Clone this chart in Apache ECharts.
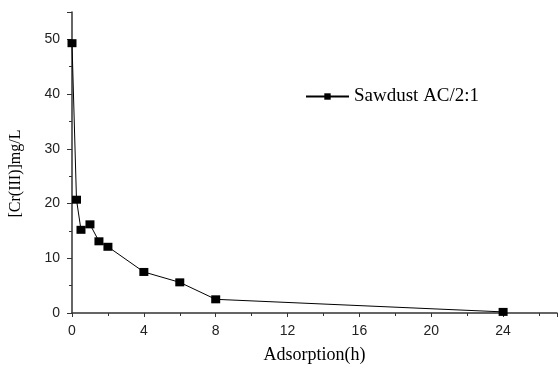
<!DOCTYPE html>
<html>
<head>
<meta charset="utf-8">
<script src="https://cdn.jsdelivr.net/npm/echarts@6/dist/echarts.min.js"></script>
<style>
  html, body { margin: 0; padding: 0; background: #fff; }
  #chart { width: 558px; height: 369px; }
</style>
</head>
<body>
<div id="chart"></div>
<script>
// adsorption time (h) and remaining Cr(III) concentration (mg/L)
const hours = [0, 0.25, 0.5, 1, 1.5, 2, 4, 6, 8, 24];
const crConc = [49.3, 20.7, 15.2, 16.2, 13.1, 12.1, 7.5, 5.6, 2.5, 0.2];
const seriesName = "Sawdust AC/2:1";

const axisColor = "#333";

const option = {
  animation: false,
  grid: {
    left: 70,
    right: 1,
    top: 12,
    bottom: 52,
  },
  legend: {
    data: [seriesName],
    left: 300,
    top: 82,
    itemWidth: 43,
    itemHeight: 8,
    itemGap: 5,
    textStyle: {
      fontFamily: "Liberation Serif",
      fontSize: 19,
      color: "#000",
    },
  },
  xAxis: {
    type: "value",
    min: 0,
    max: 27,
    interval: 4,
    name: "Adsorption(h)",
    nameLocation: "middle",
    nameGap: 33,
    nameTextStyle: {
      fontFamily: "Liberation Serif",
      fontSize: 18,
      color: "#000",
    },
    axisLine: { onZero: false, lineStyle: { color: axisColor, width: 1.5 } },
    axisTick: { length: 4, lineStyle: { color: axisColor } },
    minorTick: { show: true, splitNumber: 2, length: 3, lineStyle: { color: axisColor } },
    axisLabel: {
      fontFamily: "Liberation Sans",
      fontSize: 14,
      color: "#222",
      margin: 11,
      showMaxLabel: false,
    },
    splitLine: { show: false },
  },
  yAxis: {
    type: "value",
    min: 0,
    max: 55,
    interval: 10,
    name: "[Cr(III)]mg/L",
    nameLocation: "middle",
    nameGap: 48,
    nameTextStyle: {
      fontFamily: "Liberation Serif",
      fontSize: 16,
      color: "#000",
      padding: [0, 22, 0, 0],
    },
    axisLine: { show: true, lineStyle: { color: axisColor, width: 1.5 } },
    axisTick: { show: true, length: 5, lineStyle: { color: axisColor } },
    minorTick: { show: true, splitNumber: 2, length: 3, lineStyle: { color: axisColor } },
    axisLabel: {
      fontFamily: "Liberation Sans",
      fontSize: 14,
      color: "#222",
      margin: 12,
      showMaxLabel: false,
    },
    splitLine: { show: false },
  },
  series: [
    {
      name: seriesName,
      type: "line",
      data: hours.map((h, i) => [h, crConc[i]]),
      symbol: "rect",
      symbolSize: [9, 8],
      itemStyle: { color: "#000" },
      lineStyle: { color: "#000", width: 1 },
    },
  ],
};

const myChart = echarts.init(document.getElementById("chart"));
myChart.setOption(option);
</script>
</body>
</html>
